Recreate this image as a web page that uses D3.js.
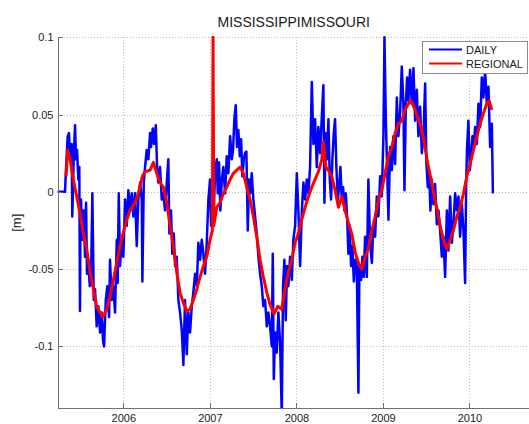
<!DOCTYPE html>
<html>
<head>
<meta charset="utf-8">
<script src="https://cdn.jsdelivr.net/npm/d3@7/dist/d3.min.js"></script>
<style>
  html, body { margin: 0; padding: 0; background: #fff; }
  svg { display: block; font-family: "Liberation Sans", Arial, Helvetica, sans-serif; }
</style>
</head>
<body>
<svg id="chart" width="529" height="424"></svg>
<script>
// Water level anomaly, Mississippi/Missouri basin: [decimal year, metres]
const chartTitle = "MISSISSIPPIMISSOURI";
const yAxisLabel = "[m]";
const seriesNames = ["DAILY", "REGIONAL"];
const seriesColors = ["#0000ff", "#ff0000"];

const xTicks = [2006, 2007, 2008, 2009, 2010];
const xTickLabels = ["2006", "2007", "2008", "2009", "2010"];
const yTicks = [0.1, 0.05, 0, -0.05, -0.1];
const yTickLabels = ["0.1", "0.05", "0", "-0.05", "-0.1"];
const xDomain = [2005.239, 2010.70];
const yDomain = [-0.14, 0.1];

const daily = [
  [2005.234, 0], [2005.326, 0], [2005.338, 0.016], [2005.357, 0.036], [2005.372, 0.038],
  [2005.384, 0.021], [2005.403, 0.031], [2005.410, -0.016], [2005.427, 0.023], [2005.442, 0.043],
  [2005.453, 0.021], [2005.465, 0.027], [2005.480, 0.008], [2005.491, 0.016], [2005.499, -0.077],
  [2005.503, -0.033], [2005.511, -0.005], [2005.526, -0.031], [2005.542, -0.012], [2005.557, -0.042],
  [2005.569, -0.007], [2005.580, -0.053], [2005.595, -0.044], [2005.612, -0.061], [2005.627, -0.055],
  [2005.642, -0.001], [2005.658, -0.070], [2005.673, -0.063], [2005.692, -0.087], [2005.711, -0.074],
  [2005.731, -0.091], [2005.750, -0.078], [2005.765, -0.096], [2005.777, -0.100], [2005.797, -0.070],
  [2005.815, -0.061], [2005.835, -0.081], [2005.846, -0.044], [2005.866, -0.070], [2005.884, -0.061],
  [2005.904, -0.078], [2005.924, -0.031], [2005.935, -0.059], [2005.947, -0.001], [2005.962, -0.048],
  [2005.981, -0.031], [2006.000, -0.042], [2006.020, -0.005], [2006.039, -0.022], [2006.058, 0.001],
  [2006.077, -0.012], [2006.097, -0.001], [2006.116, -0.016], [2006.135, -0.001], [2006.155, -0.035],
  [2006.173, -0.005], [2006.193, 0.006], [2006.213, -0.005], [2006.220, -0.058], [2006.236, 0.006],
  [2006.251, 0.016], [2006.270, 0.027], [2006.289, 0.021], [2006.309, 0.038], [2006.320, 0.029],
  [2006.340, 0.041], [2006.355, 0.031], [2006.375, 0.043], [2006.390, 0.016], [2006.405, 0.006],
  [2006.424, 0.016], [2006.444, -0.005], [2006.462, -0.001], [2006.482, -0.012], [2006.502, 0.006],
  [2006.520, 0.021], [2006.532, -0.027], [2006.551, -0.012], [2006.566, -0.040], [2006.583, -0.027],
  [2006.598, -0.048], [2006.617, -0.042], [2006.636, -0.070], [2006.655, -0.078], [2006.675, -0.089],
  [2006.694, -0.112], [2006.713, -0.070], [2006.733, -0.105], [2006.751, -0.078], [2006.771, -0.091],
  [2006.791, -0.074], [2006.809, -0.065], [2006.829, -0.053], [2006.849, -0.061], [2006.867, -0.033],
  [2006.887, -0.044], [2006.906, -0.031], [2006.925, -0.040], [2006.944, -0.053], [2006.964, -0.033],
  [2006.983, -0.005], [2007.002, 0.008], [2007.014, -0.022], [2007.029, 0.003], [2007.040, -0.020],
  [2007.060, 0.012], [2007.080, 0.021], [2007.091, -0.001], [2007.106, 0.019], [2007.121, -0.012],
  [2007.138, 0.008], [2007.156, 0.016], [2007.176, -0.001], [2007.195, 0.023], [2007.214, 0.012],
  [2007.234, 0.036], [2007.253, 0.021], [2007.268, 0.027], [2007.283, 0.047], [2007.299, 0.056],
  [2007.314, 0.029], [2007.329, 0.040], [2007.346, 0.023], [2007.361, 0.034], [2007.376, 0.010],
  [2007.392, 0.021], [2007.407, 0.025], [2007.422, 0.026], [2007.438, -0.025], [2007.453, 0.008],
  [2007.468, -0.001], [2007.484, 0.012], [2007.503, -0.005], [2007.523, -0.016], [2007.542, -0.027],
  [2007.561, -0.042], [2007.580, -0.053], [2007.600, -0.061], [2007.618, -0.074], [2007.638, -0.070],
  [2007.658, -0.087], [2007.676, -0.078], [2007.696, -0.087], [2007.716, -0.100], [2007.727, -0.040],
  [2007.739, -0.121], [2007.754, -0.091], [2007.773, -0.104], [2007.792, -0.078], [2007.812, -0.098],
  [2007.831, -0.145], [2007.846, -0.061], [2007.861, -0.044], [2007.877, -0.083], [2007.892, -0.048],
  [2007.907, -0.061], [2007.927, -0.042], [2007.947, -0.057], [2007.965, -0.031], [2007.985, -0.022],
  [2008.005, 0.012], [2008.023, -0.012], [2008.043, -0.048], [2008.062, -0.014], [2008.081, 0.006],
  [2008.101, -0.005], [2008.120, 0.008], [2008.139, -0.001], [2008.158, 0.016], [2008.178, 0.071],
  [2008.197, 0.031], [2008.216, 0.047], [2008.236, 0.016], [2008.254, 0.042], [2008.274, 0.025],
  [2008.294, 0.049], [2008.312, 0.069], [2008.324, -0.007], [2008.340, 0.038], [2008.355, 0.021],
  [2008.370, 0.047], [2008.386, 0.008], [2008.401, -0.005], [2008.416, 0.021], [2008.432, 0.038],
  [2008.447, 0.047], [2008.462, 0.016], [2008.479, -0.005], [2008.494, 0.003], [2008.509, 0.016],
  [2008.525, -0.005], [2008.540, 0.003], [2008.555, -0.012], [2008.571, -0.001], [2008.586, -0.016],
  [2008.601, -0.040], [2008.617, -0.022], [2008.632, -0.048], [2008.647, -0.035], [2008.664, -0.058],
  [2008.679, -0.044], [2008.698, -0.048], [2008.717, -0.130], [2008.728, -0.048], [2008.748, -0.057],
  [2008.763, -0.042], [2008.779, -0.055], [2008.794, -0.029], [2008.814, -0.055], [2008.832, 0.008],
  [2008.852, -0.033], [2008.872, -0.046], [2008.890, -0.021], [2008.910, -0.029], [2008.929, -0.003],
  [2008.948, -0.016], [2008.968, 0.010], [2008.987, -0.003], [2009.006, 0.036], [2009.018, 0.100],
  [2009.034, 0.046], [2009.045, 0.023], [2009.064, -0.018], [2009.083, 0.029], [2009.103, 0.014],
  [2009.121, 0.036], [2009.141, 0.018], [2009.161, 0.061], [2009.179, 0.036], [2009.199, 0.051],
  [2009.218, 0.081], [2009.237, 0.057], [2009.249, 0.001], [2009.265, 0.057], [2009.280, 0.074],
  [2009.295, 0.059], [2009.314, 0.079], [2009.334, 0.057], [2009.353, 0.080], [2009.372, 0.046],
  [2009.392, 0.066], [2009.410, 0.036], [2009.430, 0.055], [2009.450, 0.025], [2009.468, 0.036],
  [2009.488, 0.070], [2009.503, 0.018], [2009.519, 0.003], [2009.534, 0.014], [2009.549, -0.012],
  [2009.565, 0.008], [2009.584, -0.008], [2009.603, 0.005], [2009.623, -0.021], [2009.642, -0.012],
  [2009.661, -0.025], [2009.681, -0.042], [2009.699, -0.029], [2009.719, -0.055], [2009.739, -0.012],
  [2009.757, -0.038], [2009.777, -0.003], [2009.797, -0.033], [2009.815, -0.021], [2009.835, -0.001],
  [2009.854, -0.012], [2009.873, -0.003], [2009.892, -0.029], [2009.912, -0.008], [2009.931, -0.025],
  [2009.950, -0.059], [2009.962, 0.005], [2009.973, 0.029], [2009.988, 0.046], [2010.005, 0.014],
  [2010.020, 0.023], [2010.035, 0.036], [2010.051, 0.029], [2010.066, 0.042], [2010.086, 0.031],
  [2010.104, 0.057], [2010.124, 0.042], [2010.143, 0.074], [2010.162, 0.061], [2010.181, 0.079],
  [2010.201, 0.057], [2010.220, 0.068], [2010.239, 0.029], [2010.259, 0.044], [2010.271, -0.001]
];

const regional = [
  [2005.338, 0.010], [2005.357, 0.027], [2005.384, 0.021], [2005.422, 0.008], [2005.461, -0.003],
  [2005.499, -0.014], [2005.538, -0.027], [2005.577, -0.037], [2005.615, -0.052], [2005.654, -0.063],
  [2005.692, -0.074], [2005.731, -0.078], [2005.762, -0.081], [2005.808, -0.076], [2005.846, -0.068],
  [2005.884, -0.057], [2005.924, -0.046], [2005.962, -0.035], [2006.000, -0.026], [2006.039, -0.018],
  [2006.077, -0.012], [2006.135, -0.007], [2006.173, -0.001], [2006.220, 0.010], [2006.251, 0.013],
  [2006.309, 0.014], [2006.347, 0.019], [2006.386, 0.012], [2006.424, 0.006], [2006.462, 0.003],
  [2006.502, -0.007], [2006.540, -0.022], [2006.578, -0.035], [2006.617, -0.052], [2006.655, -0.065],
  [2006.694, -0.072], [2006.733, -0.077], [2006.771, -0.076], [2006.809, -0.070], [2006.849, -0.063],
  [2006.887, -0.055], [2006.925, -0.048], [2006.964, -0.042], [2007.002, -0.031], [2007.029, -0.025],
  [2007.037, 0.100], [2007.045, -0.022], [2007.080, -0.010], [2007.118, -0.007], [2007.156, -0.001],
  [2007.195, 0.003], [2007.234, 0.008], [2007.272, 0.012], [2007.311, 0.014], [2007.349, 0.016],
  [2007.387, 0.012], [2007.426, 0.003], [2007.465, -0.005], [2007.503, -0.016], [2007.542, -0.029],
  [2007.580, -0.044], [2007.618, -0.055], [2007.658, -0.065], [2007.696, -0.073], [2007.742, -0.079],
  [2007.785, -0.074], [2007.831, -0.076], [2007.869, -0.063], [2007.907, -0.052], [2007.947, -0.044],
  [2007.985, -0.033], [2008.023, -0.027], [2008.062, -0.018], [2008.101, -0.010], [2008.139, -0.003],
  [2008.178, 0.003], [2008.216, 0.008], [2008.254, 0.013], [2008.294, 0.021], [2008.312, 0.032],
  [2008.340, 0.016], [2008.370, 0.014], [2008.409, 0.010], [2008.447, 0.001], [2008.486, -0.010],
  [2008.525, -0.003], [2008.563, -0.012], [2008.601, -0.020], [2008.640, -0.027], [2008.679, -0.039],
  [2008.717, -0.046], [2008.756, -0.050], [2008.794, -0.042], [2008.832, -0.037], [2008.872, -0.025],
  [2008.910, -0.016], [2008.948, -0.005], [2008.987, 0.001], [2009.025, 0.012], [2009.064, 0.023],
  [2009.103, 0.029], [2009.141, 0.038], [2009.179, 0.044], [2009.218, 0.046], [2009.257, 0.053],
  [2009.295, 0.057], [2009.326, 0.059], [2009.364, 0.054], [2009.403, 0.048], [2009.442, 0.042],
  [2009.480, 0.031], [2009.519, 0.018], [2009.557, 0.008], [2009.595, -0.003], [2009.635, -0.014],
  [2009.673, -0.025], [2009.711, -0.033], [2009.739, -0.037], [2009.777, -0.031], [2009.815, -0.025],
  [2009.854, -0.016], [2009.892, -0.010], [2009.931, -0.001], [2009.970, 0.010], [2010.008, 0.018],
  [2010.046, 0.027], [2010.086, 0.036], [2010.124, 0.044], [2010.162, 0.051], [2010.201, 0.057],
  [2010.228, 0.059], [2010.259, 0.053]
];

const svg = d3.select("#chart");
const plot = { left: 57.5, right: 530, top: 37.2, bottom: 408.3 };

const x = d3.scaleLinear().domain(xDomain).range([plot.left, plot.right]);
const y = d3.scaleLinear().domain(yDomain).range([plot.bottom, plot.top]);

// dotted grid
const grid = svg.append("g")
  .attr("stroke", "#bdbdbd")
  .attr("stroke-width", 1)
  .attr("stroke-dasharray", "1,2")
  .attr("shape-rendering", "crispEdges");
grid.selectAll("line.gx").data(xTicks).join("line")
  .attr("class", "gx")
  .attr("x1", d => Math.round(x(d)) + 0.5).attr("x2", d => Math.round(x(d)) + 0.5)
  .attr("y1", plot.top).attr("y2", plot.bottom);
grid.selectAll("line.gy").data(yTicks).join("line")
  .attr("class", "gy")
  .attr("x1", plot.left).attr("x2", plot.right)
  .attr("y1", d => Math.round(y(d)) + 0.5).attr("y2", d => Math.round(y(d)) + 0.5);

// clip series to the axes area
svg.append("defs").append("clipPath").attr("id", "plotClip")
  .append("rect")
  .attr("x", plot.left).attr("y", 35.5)
  .attr("width", plot.right - plot.left).attr("height", plot.bottom - 35.5);

const line = d3.line().x(d => x(d[0])).y(d => y(d[1]));

const series = svg.append("g").attr("clip-path", "url(#plotClip)");
series.append("path")
  .datum(daily)
  .attr("fill", "none")
  .attr("stroke", seriesColors[0])
  .attr("stroke-width", 2.5)
  .attr("stroke-linejoin", "round")
  .attr("d", line);
series.append("path")
  .datum(regional)
  .attr("fill", "none")
  .attr("stroke", seriesColors[1])
  .attr("stroke-width", 3)
  .attr("stroke-linejoin", "round")
  .attr("d", line);

// axes (left and bottom only, ticks pointing inward)
const yAxis = d3.axisLeft(y)
  .tickValues(yTicks)
  .tickFormat((d, i) => yTickLabels[i])
  .tickSizeInner(-5).tickSizeOuter(0).tickPadding(4);
const xAxis = d3.axisBottom(x)
  .tickValues(xTicks)
  .tickFormat((d, i) => xTickLabels[i])
  .tickSizeInner(-5).tickSizeOuter(0).tickPadding(6);

const gy = svg.append("g")
  .attr("transform", `translate(${plot.left},0)`)
  .call(yAxis);
const gx = svg.append("g")
  .attr("transform", `translate(0,${plot.bottom})`)
  .call(xAxis);

[gx, gy].forEach(g => {
  g.select(".domain").attr("stroke", "#707070").attr("shape-rendering", "crispEdges");
  g.selectAll(".tick line").attr("stroke", "#707070").attr("shape-rendering", "crispEdges");
  g.selectAll(".tick text")
    .attr("fill", "#1a1a1a")
    .style("font-size", "11px")
    .style("font-family", "'Liberation Sans', Arial, sans-serif");
});

// title and axis label
svg.append("text")
  .attr("x", (plot.left + plot.right) / 2)
  .attr("y", 27)
  .attr("text-anchor", "middle")
  .attr("fill", "#1a1a1a")
  .style("font-size", "14px")
  .text(chartTitle);

svg.append("text")
  .attr("transform", `translate(21,${(plot.top + plot.bottom) / 2}) rotate(-90)`)
  .attr("text-anchor", "middle")
  .attr("fill", "#1a1a1a")
  .style("font-size", "13px")
  .text(yAxisLabel);

// legend
const legend = svg.append("g");
legend.append("rect")
  .attr("x", 422.5).attr("y", 41.5)
  .attr("width", 105).attr("height", 32)
  .attr("fill", "#fff")
  .attr("stroke", "#8a8a8a")
  .attr("shape-rendering", "crispEdges");
const legendRows = legend.selectAll("g.row").data(seriesNames).join("g")
  .attr("class", "row")
  .attr("transform", (d, i) => `translate(0,${49.5 + i * 14})`);
legendRows.append("line")
  .attr("x1", 429).attr("x2", 462)
  .attr("y1", 0).attr("y2", 0)
  .attr("stroke", (d, i) => seriesColors[i])
  .attr("stroke-width", 2);
legendRows.append("text")
  .attr("x", 466).attr("y", 4)
  .attr("fill", "#1a1a1a")
  .style("font-size", "11px")
  .text(d => d);
</script>
</body>
</html>
